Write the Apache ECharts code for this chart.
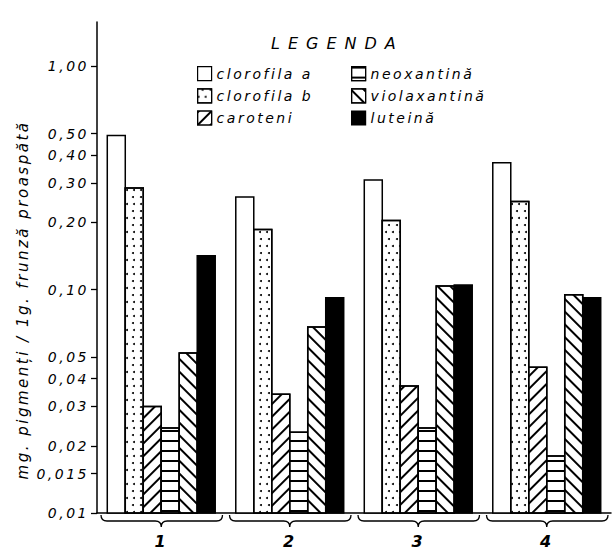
<!DOCTYPE html>
<html>
<head>
<meta charset="utf-8">
<script src="https://cdn.jsdelivr.net/npm/echarts@6/dist/echarts.min.js"></script>
<style>
  html, body { margin: 0; padding: 0; background: #fff; }
  #chart { width: 615px; height: 549px; }
  #chart svg text { letter-spacing: 2.5px; }
</style>
</head>
<body>
<div id="chart"></div>
<script>
// Samples (groups) on the category axis
const groups = ['1', '2', '3', '4'];

// Pigment names, in legend order
const pigmentNames = ['clorofila a', 'clorofila b', 'caroteni', 'neoxantină', 'violaxantină', 'luteină'];

// mg pigment per 1 g fresh leaf, one value per group
const clorofilaA   = [0.49, 0.26, 0.31, 0.37];
const clorofilaB   = [0.285, 0.186, 0.204, 0.248];
const caroteni     = [0.030, 0.034, 0.037, 0.045];
const neoxantina   = [0.024, 0.023, 0.024, 0.018];
const violaxantina = [0.052, 0.068, 0.104, 0.095];
const luteina      = [0.142, 0.092, 0.105, 0.092];

// Y axis ticks and their printed labels
const tickValues = [0.01, 0.015, 0.02, 0.03, 0.04, 0.05, 0.1, 0.2, 0.3, 0.4, 0.5, 1];
const tickLabels = ['0,01', '0,015', '0,02', '0,03', '0,04', '0,05', '0,10', '0,20', '0,30', '0,40', '0,50', '1,00'];

const yMin = 0.01;
const yMax = 1.58;
const CAT_GAP = 0.16;   // share of each category band left empty

const FONT = 'DejaVu Sans';
const INK = '#000';

function labelFor(v) {
  for (let i = 0; i < tickValues.length; i++) {
    if (Math.abs(tickValues[i] - v) / tickValues[i] < 1e-6) return tickLabels[i];
  }
  return '';
}

// Hatching / stipple fills
const decals = {
  dots: {
    symbol: 'circle', symbolSize: 1, color: INK,
    dashArrayX: [[1.8, 4.6], [0, 3.2, 1.8, 1.4]],
    dashArrayY: [1.8, 4.6]
  },
  rising: {
    symbol: 'rect', symbolSize: 1, color: INK,
    dashArrayX: [1, 0], dashArrayY: [1.3, 6.6], rotation: -Math.PI / 4
  },
  horizontal: {
    symbol: 'rect', symbolSize: 1, color: INK,
    dashArrayX: [1, 0], dashArrayY: [1.3, 7.9], rotation: 0
  },
  falling: {
    symbol: 'rect', symbolSize: 1, color: INK,
    dashArrayX: [1, 0], dashArrayY: [1.3, 6.6], rotation: Math.PI / 4
  }
};

const seriesDefs = [
  { name: pigmentNames[0], data: clorofilaA,   color: '#fff', decal: null },
  { name: pigmentNames[1], data: clorofilaB,   color: '#fff', decal: decals.dots },
  { name: pigmentNames[2], data: caroteni,     color: '#fff', decal: decals.rising },
  { name: pigmentNames[3], data: neoxantina,   color: '#fff', decal: decals.horizontal },
  { name: pigmentNames[4], data: violaxantina, color: '#fff', decal: decals.falling },
  { name: pigmentNames[5], data: luteina,      color: '#000', decal: null }
];

// Bars rise from the bottom of the log axis (yMin); each pigment takes
// its own slot inside the category band.
const barSeries = seriesDefs.map((s, k) => ({
  type: 'custom',
  name: s.name,
  data: s.data.map((v, i) => [i, v]),
  encode: { x: 0, y: 1 },
  itemStyle: Object.assign(
    { color: s.color, borderColor: INK, borderWidth: 1.5 },
    s.decal ? { decal: s.decal } : {}
  ),
  renderItem: function (params, api) {
    const idx = api.value(0);
    const v = api.value(1);
    const top = api.coord([idx, v]);
    const base = api.coord([idx, yMin]);
    const band = api.size([1, 1], [idx, 0.1])[0];
    const groupW = band * (1 - CAT_GAP);
    const barW = groupW / seriesDefs.length;
    const x = top[0] - groupW / 2 + k * barW;
    const style = { fill: s.color, stroke: INK, lineWidth: 1.5 };
    if (s.decal) style.decal = s.decal;
    return {
      type: 'rect',
      shape: { x: x, y: top[1], width: barW, height: base[1] - top[1] },
      style: style
    };
  }
}));

// Curly brace under each group, drawn from the axis coordinates
const braceSeries = {
  type: 'custom',
  data: groups.map((g, i) => [i]),
  encode: { x: 0 },
  clip: false,
  silent: true,
  renderItem: function (params, api) {
    const idx = api.value(0);
    const c = api.coord([idx, yMin]);
    const w = api.size([1, 1], [idx, 0.1])[0];
    const x0 = c[0] - w / 2 + 4;
    const x1 = c[0] + w / 2 - 3;
    const m = c[0];
    const y = c[1];
    const d = 'M' + x0 + ' ' + (y + 2) +
      ' Q' + x0 + ' ' + (y + 8) + ' ' + (x0 + 6) + ' ' + (y + 8) +
      ' L' + (m - 6) + ' ' + (y + 8) +
      ' Q' + m + ' ' + (y + 8) + ' ' + m + ' ' + (y + 14) +
      ' Q' + m + ' ' + (y + 8) + ' ' + (m + 6) + ' ' + (y + 8) +
      ' L' + (x1 - 6) + ' ' + (y + 8) +
      ' Q' + x1 + ' ' + (y + 8) + ' ' + x1 + ' ' + (y + 2);
    return {
      type: 'path',
      shape: { pathData: d },
      style: { fill: null, stroke: INK, lineWidth: 1.3 }
    };
  }
};

const textBase = { fontFamily: FONT, fontStyle: 'italic', fontWeight: 'normal', color: INK };

const legendCommon = {
  orient: 'vertical',
  top: 61,
  itemWidth: 14,
  itemHeight: 14,
  itemGap: 7,
  icon: 'rect',
  selectedMode: false,
  itemStyle: { borderColor: INK, borderWidth: 1.2 },
  textStyle: Object.assign({}, textBase, { fontSize: 14 })
};

const chart = echarts.init(document.getElementById('chart'), null, { renderer: 'svg' });

chart.setOption({
  animation: false,
  backgroundColor: '#fff',
  title: {
    text: 'LEGENDA',
    left: 266,
    top: 30,
    textStyle: Object.assign({}, textBase, { fontSize: 16 })
  },
  legend: [
    Object.assign({}, legendCommon, { left: 192, data: pigmentNames.slice(0, 3) }),
    Object.assign({}, legendCommon, { left: 346, data: pigmentNames.slice(3) })
  ],
  grid: { left: 97, right: 4, top: 22, bottom: 35, containLabel: false },
  xAxis: {
    type: 'category',
    data: groups,
    boundaryGap: true,
    axisLine: { show: true, lineStyle: { color: INK, width: 1.5 } },
    axisTick: { show: false },
    axisLabel: Object.assign({}, textBase, { fontSize: 16, fontWeight: 'bold', margin: 20 }),
    splitLine: { show: false }
  },
  yAxis: {
    type: 'log',
    logBase: 10,
    min: yMin,
    max: yMax,
    axisLine: { show: true, lineStyle: { color: INK, width: 1.5 } },
    axisTick: { show: true, length: 6, lineStyle: { color: INK, width: 1.3 }, customValues: tickValues },
    axisLabel: Object.assign({}, textBase, {
      fontSize: 14,
      margin: 8,
      customValues: tickValues,
      formatter: labelFor
    }),
    splitLine: { show: false },
    minorTick: { show: false }
  },
  graphic: [{
    type: 'text',
    x: 23,
    y: 300,
    rotation: Math.PI / 2,
    style: {
      text: 'mg. pigmenți / 1g. frunză proaspătă',
      fontSize: 15,
      fontStyle: 'italic',
      fontFamily: FONT,
      fill: INK,
      textAlign: 'center',
      textVerticalAlign: 'middle'
    }
  }],
  series: barSeries.concat([braceSeries])
});

// Wide spacing for the legend heading
function spaceHeading() {
  document.querySelectorAll('#chart svg text').forEach(function (t) {
    if (t.textContent === 'LEGENDA') t.style.letterSpacing = '8px';
  });
}
chart.on('finished', spaceHeading);
spaceHeading();
setTimeout(spaceHeading, 0);
</script>
</body>
</html>
